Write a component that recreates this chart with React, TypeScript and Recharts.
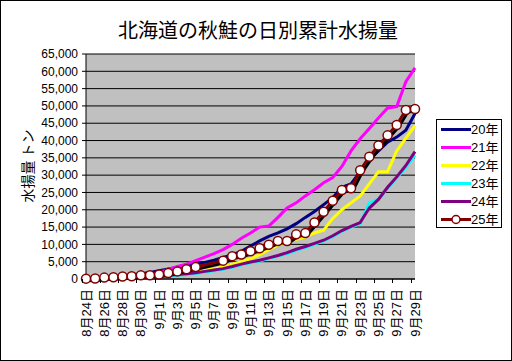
import React from 'react';
import { LineChart, Line, XAxis, YAxis, CartesianGrid, Legend } from 'recharts';

const dates = [
  '8月24日', '8月25日', '8月26日', '8月27日', '8月28日', '8月29日', '8月30日', '8月31日',
  '9月1日', '9月2日', '9月3日', '9月4日', '9月5日', '9月6日', '9月7日', '9月8日', '9月9日',
  '9月10日', '9月11日', '9月12日', '9月13日', '9月14日', '9月15日', '9月16日', '9月17日',
  '9月18日', '9月19日', '9月20日', '9月21日', '9月22日', '9月23日', '9月24日', '9月25日',
  '9月26日', '9月27日', '9月28日', '9月29日',
];

const s20 = [100, 200, 350, 600, 900, 1200, 1500, 1900, 2400, 2900, 3300, 3800, 4300, 4800, 5400, 6200, 7000, 8000, 9500, 11000, 12300, 13300, 14500, 16000, 17800, 19500, 21500, 23500, 26500, 27500, 31000, 34500, 37000, 39500, 41000, 43000, 47800];
const s21 = [100, 200, 300, 400, 600, 800, 1000, 1300, 1900, 2800, 3600, 4300, 5300, 6300, 7300, 8500, 10000, 11800, 13300, 15000, 15300, 17800, 20500, 22000, 24000, 25800, 27800, 29300, 32500, 37000, 40500, 43500, 46500, 49400, 49800, 57000, 61000];
const s22 = [0, 100, 200, 300, 400, 500, 700, 900, 1100, 1400, 1700, 2000, 2200, 2500, 2900, 3500, 4300, 5000, 5900, 7000, 8500, 9800, 10700, 11500, 12100, 13300, 14100, 17500, 20000, 22000, 24000, 27500, 31000, 31000, 37000, 40700, 44300];
const s23 = [0, 50, 100, 200, 300, 400, 500, 600, 700, 900, 1100, 1300, 1600, 2000, 2400, 2800, 3400, 4100, 4700, 5200, 5900, 6600, 7300, 8300, 9100, 10000, 11000, 12200, 13800, 15000, 16000, 22000, 23000, 26300, 29200, 32300, 35800];
const s24 = [0, 100, 200, 300, 400, 500, 600, 800, 900, 1100, 1300, 1500, 1800, 2200, 2600, 3000, 3600, 4300, 4900, 5400, 6100, 6800, 7600, 8600, 9400, 10300, 11200, 12500, 14000, 15200, 16300, 20500, 23000, 26500, 29500, 32800, 36800];
const s25 = [100, 150, 400, 500, 700, 800, 1050, 1100, 1300, 1700, 2200, 2850, 3450, null, null, 5300, 6600, 7100, 8000, 8900, 9900, 11000, 11000, 12900, 13300, 16300, 19400, 22600, 25700, 26200, 31400, 35300, 38600, 41500, 44500, 48800, 49100];

const yTicks = [0, 5000, 10000, 15000, 20000, 25000, 30000, 35000, 40000, 45000, 50000, 55000, 60000, 65000];

const seriesNames = ['20年', '21年', '22年', '23年', '24年', '25年'];
const seriesKeys = ['y20', 'y21', 'y22', 'y23', 'y24', 'y25'];
const seriesColors = ['#000080', '#FF00FF', '#FFFF00', '#00FFFF', '#800080', '#800000'];

const data = dates.map((d, i) => ({
  date: d,
  y20: s20[i],
  y21: s21[i],
  y22: s22[i],
  y23: s23[i],
  y24: s24[i],
  y25: s25[i],
}));

const W = 512;
const H = 361;
const PLOT_LEFT = 86;
const PLOT_RIGHT = 415;
const PLOT_TOP = 54;
const PLOT_BOTTOM = 279;
const FONT = '"Liberation Sans", Arial, "Noto Sans CJK JP", sans-serif';
const JFONT = '"Noto Sans CJK JP", sans-serif';

const XTick = (props: any) => {
  const { x, payload } = props;
  const bw = (PLOT_RIGHT - PLOT_LEFT) / dates.length;
  const lx = Math.round(x - bw / 2) + 0.5;
  return (
    <g>
      <line x1={lx} y1={PLOT_BOTTOM} x2={lx} y2={PLOT_BOTTOM + 4} stroke="#000" strokeWidth={1} />
      <text
        transform={`translate(${x},${PLOT_BOTTOM + 10}) rotate(-90)`}
        textAnchor="end"
        dominantBaseline="central"
        fontSize={13}
        fontFamily={FONT}
        fill="#000"
      >
        {payload.value}
      </text>
    </g>
  );
};

const Marker = (props: any) => {
  const { cx, cy, index } = props;
  if (cx == null || cy == null || props.value == null) return <g key={`m${index}`} />;
  return (
    <circle key={`m${index}`} cx={cx} cy={cy} r={4.5} fill="#fff" stroke="#800000" strokeWidth={1.5} />
  );
};

const renderLegend = () => (
  <svg width={67} height={110} style={{ display: 'block' }}>
    <rect x={0.5} y={0.5} width={65} height={108} fill="#fff" stroke="#000" strokeWidth={1} />
    {seriesNames.map((n, i) => {
      const cy = 10.5 + i * 18;
      return (
        <g key={n}>
          <line x1={5} y1={cy} x2={35} y2={cy} stroke={seriesColors[i]} strokeWidth={3} />
          {i === 5 && <circle cx={20} cy={cy} r={4} fill="#fff" stroke="#800000" strokeWidth={1.5} />}
          <text x={35} y={cy} dominantBaseline="central" fontSize={13} fontFamily={FONT} fill="#000">
            {n}
          </text>
        </g>
      );
    })}
  </svg>
);

export default function App() {
  return (
    <div style={{ position: 'absolute', left: 0, top: 0, width: W, height: H, background: '#fff' }}>
      <style>{`.shadow25 { filter: drop-shadow(2px 2px 0px #000); }`}</style>
      <LineChart
        width={W}
        height={H}
        data={data}
        margin={{ top: PLOT_TOP, right: W - PLOT_RIGHT, bottom: H - PLOT_BOTTOM - 60, left: PLOT_LEFT - 60 }}
      >
        <CartesianGrid vertical={false} stroke="#000" fill="#C0C0C0" fillOpacity={1} />
        <XAxis
          dataKey="date"
          height={60}
          interval={1}
          tickLine={false}
          axisLine={{ stroke: '#000' }}
          tick={<XTick />}
        />
        <XAxis
          xAxisId="top"
          orientation="top"
          dataKey="date"
          height={0}
          tick={false}
          tickLine={false}
          axisLine={{ stroke: '#808080' }}
        />
        <YAxis
          width={60}
          domain={[0, 65000]}
          ticks={yTicks}
          interval={0}
          tickSize={4}
          tickMargin={4}
          tickLine={{ stroke: '#000' }}
          axisLine={{ stroke: '#000' }}
          tick={{ fontSize: 12, fill: '#000', fontFamily: FONT }}
          tickFormatter={(v: number) => v.toLocaleString('en-US')}
        />
        <YAxis
          yAxisId="right"
          orientation="right"
          width={0}
          domain={[0, 65000]}
          tick={false}
          tickLine={false}
          axisLine={{ stroke: '#808080' }}
        />
        {seriesKeys.slice(0, 5).map((k, i) => (
          <Line
            key={k}
            dataKey={k}
            name={seriesNames[i]}
            stroke={seriesColors[i]}
            strokeWidth={3}
            dot={false}
            activeDot={false}
            isAnimationActive={false}
          />
        ))}
        <Line
          dataKey="y25"
          name="25年"
          stroke="#800000"
          strokeWidth={3}
          dot={<Marker />}
          activeDot={false}
          connectNulls
          className="shadow25"
          isAnimationActive={false}
        />
        <Legend
          layout="vertical"
          align="center"
          verticalAlign="middle"
          content={renderLegend}
          wrapperStyle={{ position: 'absolute', left: 436, top: 119, width: 67, height: 110, margin: 0 }}
        />
      </LineChart>
      <svg width={W} height={H} style={{ position: 'absolute', left: 0, top: 0, pointerEvents: 'none' }}>
        <text x={258} y={29} textAnchor="middle" dominantBaseline="central" fontSize={20} fontFamily={JFONT} fill="#000">
          北海道の秋鮭の日別累計水揚量
        </text>
        <text
          transform="translate(27,166) rotate(-90)"
          textAnchor="middle"
          dominantBaseline="central"
          fontSize={14}
          fontFamily={JFONT}
          fill="#000"
        >
          水揚量 トン
        </text>
        <rect x={0.5} y={0.5} width={W - 1} height={H - 1} fill="none" stroke="#000" strokeWidth={1} />
      </svg>
    </div>
  );
}
